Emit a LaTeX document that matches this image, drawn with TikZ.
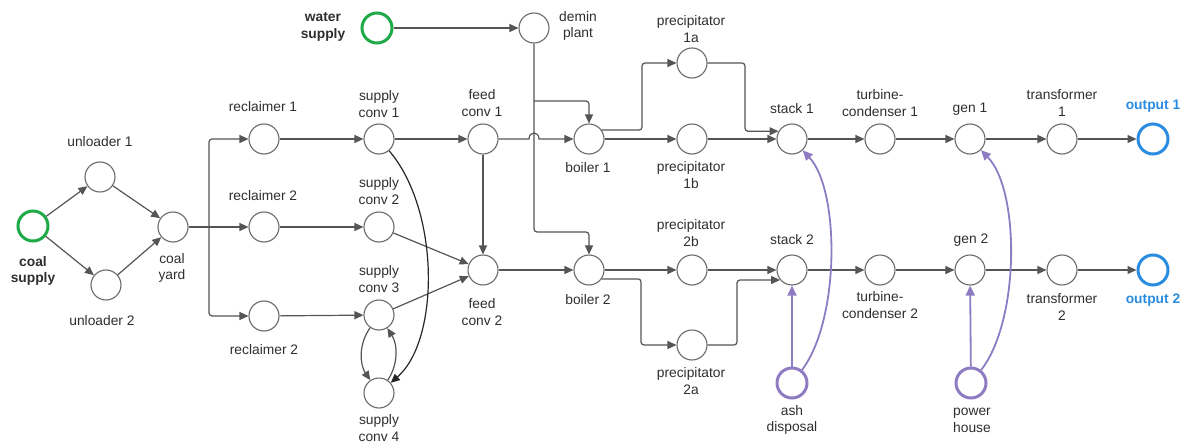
\documentclass[tikz,border=0pt]{standalone}
\usepackage{fontspec}
\setmainfont{Liberation Sans}
\usetikzlibrary{arrows.meta}
\definecolor{edgec}{HTML}{555555}
\definecolor{nodec}{HTML}{6A6A6A}
\definecolor{txtc}{HTML}{2E2E2E}
\definecolor{srcc}{HTML}{1FAA48}
\definecolor{outc}{HTML}{2A8CE0}
\definecolor{auxc}{HTML}{8E7CC3}
\begin{document}
\begin{tikzpicture}[x=1pt,y=-1pt,
  every node/.style={font=\fontsize{13.8}{16.8}\selectfont, text=txtc},
  circ/.style={circle, draw=nodec, line width=1.1pt, minimum size=30pt, inner sep=0pt, fill=white},
  src/.style={circ, draw=srcc, line width=3pt},
  outn/.style={circ, draw=outc, line width=3pt},
  auxn/.style={circ, draw=auxc, line width=3pt},
  lbl/.style={align=center, inner sep=0pt},
  blbl/.style={lbl, font=\fontsize{13.8}{16.8}\selectfont\bfseries},
  arr/.style={draw=edgec, line width=1.2pt, -{Triangle[length=9pt,width=8pt]}},
  ln/.style={draw=edgec, line width=1.2pt},
  rc/.style={rounded corners=3pt},
  darr/.style={draw=black!85, line width=1.2pt, -{Triangle[length=9pt,width=8pt]}},
  parr/.style={draw=auxc, line width=1.8pt, -{Triangle[length=10pt,width=9pt]}},
]
\useasboundingbox (0,0) rectangle (1184,444);

% nodes
\node[src] (cs) at (33,226) {};
\node[circ] (u1) at (100,177) {};
\node[circ] (u2) at (106,285) {};
\node[circ] (cy) at (173,227) {};
\node[circ] (r1) at (264,139) {};
\node[circ] (r2) at (264,227) {};
\node[circ] (r3) at (264,316) {};
\node[circ] (sc1) at (379,139) {};
\node[circ] (sc2) at (379,227) {};
\node[circ] (sc3) at (379,315) {};
\node[circ] (sc4) at (379,393) {};
\node[circ] (fc1) at (483,139) {};
\node[circ] (fc2) at (483,270) {};
\node[src] (ws) at (377,28) {};
\node[circ] (dp) at (534,28) {};
\node[circ] (b1) at (589,139) {};
\node[circ] (b2) at (589,270) {};
\node[circ] (p1a) at (692,63) {};
\node[circ] (p1b) at (692,139) {};
\node[circ] (p2b) at (692,270) {};
\node[circ] (p2a) at (692,345) {};
\node[circ] (s1) at (792,139) {};
\node[circ] (s2) at (792,270) {};
\node[auxn] (ad) at (792,383) {};
\node[circ] (t1) at (880,139) {};
\node[circ] (t2) at (880,270) {};
\node[circ] (g1) at (970,139) {};
\node[circ] (g2) at (970,270) {};
\node[auxn] (ph) at (971,383) {};
\node[circ] (tr1) at (1062,139) {};
\node[circ] (tr2) at (1062,270) {};
\node[outn] (o1) at (1153,139) {};
\node[outn] (o2) at (1153,270) {};

% labels
\node[blbl] (Lcs) at (33,271) {coal\\supply};
\node[lbl] (Lu1) at (100,142) {unloader 1};
\node[lbl] (Lu2) at (102,321) {unloader 2};
\node[lbl] (Lcy) at (172,268) {coal\\yard};
\node[lbl] (Lr1) at (263,107) {reclaimer 1};
\node[lbl] (Lr2) at (263,196) {reclaimer 2};
\node[lbl] (Lr3) at (264,350) {reclaimer 2};
\node[lbl] (Lsc1) at (379,104) {supply\\conv 1};
\node[lbl] (Lsc2) at (379,191) {supply\\conv 2};
\node[lbl] (Lsc3) at (379,279) {supply\\conv 3};
\node[lbl] (Lsc4) at (379,428) {supply\\conv 4};
\node[lbl] (Lfc1) at (482,103) {feed\\conv 1};
\node[lbl] (Lfc2) at (482,312) {feed\\conv 2};
\node[blbl] (Lws) at (323,27) {water\\supply};
\node[lbl] (Ldp) at (578,26) {demin\\plant};
\node[lbl] (Lp1a) at (691,29) {precipitator\\1a};
\node[lbl] (Lb1) at (588,168) {boiler 1};
\node[lbl] (Lp1b) at (691,175) {precipitator\\1b};
\node[lbl] (Lp2b) at (691,233) {precipitator\\2b};
\node[lbl] (Ls1) at (792,109) {stack 1};
\node[lbl] (Ls2) at (792,240) {stack 2};
\node[lbl] (Lb2) at (588,300) {boiler 2};
\node[lbl] (Lp2a) at (691,381) {precipitator\\2a};
\node[lbl] (Lad) at (792,420) {ash\\disposal};
\node[lbl] (Lt1) at (880,103) {turbine-\\condenser 1};
\node[lbl] (Lg1) at (970,109) {gen 1};
\node[lbl] (Ltr1) at (1062,103) {transformer\\1};
\node[blbl, text=outc] (Lo1) at (1153,106) {output 1};
\node[lbl] (Lt2) at (880,305) {turbine-\\condenser 2};
\node[lbl] (Lg2) at (971,240) {gen 2};
\node[lbl] (Ltr2) at (1062,307) {transformer\\2};
\node[blbl, text=outc] (Lo2) at (1153,300) {output 2};
\node[lbl] (Lph) at (972,420) {power\\house};

% helper coordinates
\coordinate (cj) at (209,227);
\coordinate (hopA) at (529,139);
\coordinate (hopB) at (539,139);
\coordinate (dj1) at (534,101);
\coordinate (dj2) at (534,232);
\coordinate (k1) at (642,63);
\coordinate (k2) at (745,100);
\coordinate (k3) at (641,345);
\coordinate (k4) at (737,300);

% edges
\draw[arr] (cs) -- (u1);
\draw[arr] (cs) -- (u2);
\draw[arr] (u1) -- (cy);
\draw[arr] (u2) -- (cy);
\draw[ln] (cy) -- (cj);
\draw[arr,rc] (cj) |- (r1);
\draw[arr] (cj) -- (r2);
\draw[arr,rc] (cj) |- (r3);
\draw[arr] (r1) -- (sc1);
\draw[arr] (r2) -- (sc2);
\draw[arr] (r3) -- (sc3);
\draw[arr] (sc1) -- (fc1);
\draw[arr] (sc2) -- (fc2);
\draw[arr] (sc3) -- (fc2);
\draw[arr] (fc1) -- (fc2);
\draw[darr] (sc1) .. controls (440,210) and (440,340) .. (sc4);
\draw[arr] (sc3) .. controls (358,345) and (360,365) .. (sc4);
\draw[arr] (sc4) .. controls (398,365) and (398,345) .. (sc3);
\draw[arr] (fc1) -- (hopA) .. controls (529,131) and (539,131) .. (hopB) -- (b1);
\draw[arr] (fc2) -- (b2);
\draw[arr] (ws) -- (dp);
\draw[arr,rc] (dp) -- (dj2) -| (b2);
\draw[arr,rc] (dj1) -| (b1);
\draw[arr,rc] (b1.35) -| (k1) -- (p1a);
\draw[arr] (b1) -- (p1b);
\draw[arr,rc] (p1a) -| (k2) |- (s1.150);
\draw[arr] (p1b) -- (s1);
\draw[arr] (s1) -- (t1);
\draw[arr] (t1) -- (g1);
\draw[arr] (g1) -- (tr1);
\draw[arr] (tr1) -- (o1);
\draw[arr] (b2) -- (p2b);
\draw[arr,rc] (b2.-35) -| (k3) -- (p2a);
\draw[arr] (p2b) -- (s2);
\draw[arr,rc] (p2a) -| (k4) |- (s2.-140);
\draw[arr] (s2) -- (t2);
\draw[arr] (t2) -- (g2);
\draw[arr] (g2) -- (tr2);
\draw[arr] (tr2) -- (o2);
\draw[parr] (ad) -- (s2);
\draw[parr] (ad) .. controls (840,320) and (840,190) .. (s1);
\draw[parr] (ph) -- (g2);
\draw[parr] (ph) .. controls (1020,320) and (1020,190) .. (g1);
\end{tikzpicture}
\end{document}
